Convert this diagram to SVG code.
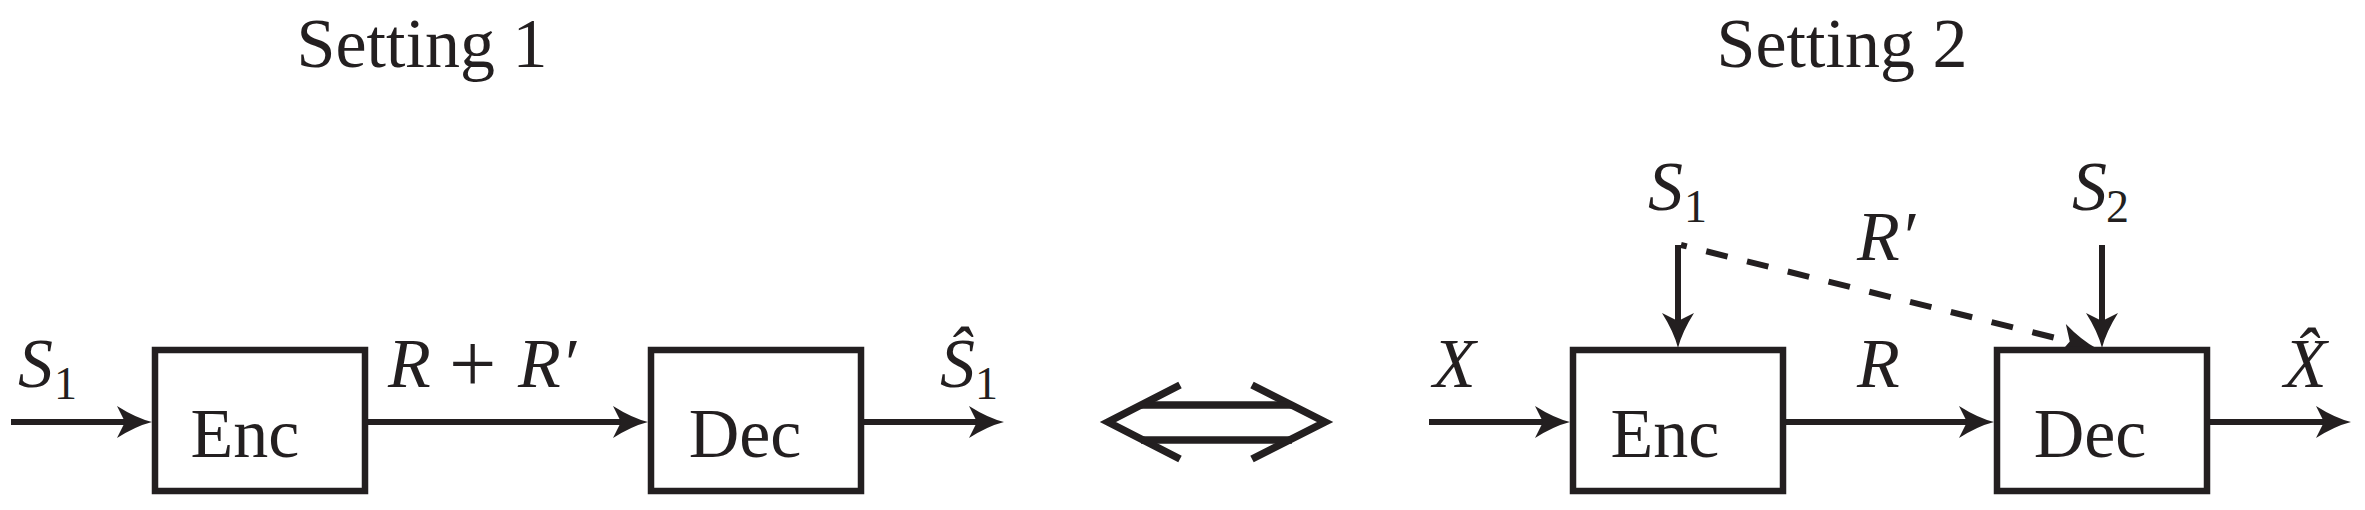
<svg xmlns="http://www.w3.org/2000/svg" width="2365" height="510" viewBox="0 0 2365 510">
<style>
text{font-family:"Liberation Serif","Times New Roman",serif;fill:#231f20;font-size:70px}
.title{text-anchor:middle}
.lbl{text-anchor:middle}
.mi{font-style:italic}
.sub{font-style:normal;font-size:46px}
.box{fill:#fff;stroke:#231f20;stroke-width:6.5}
.wire{fill:none;stroke:#231f20;stroke-width:6}
.dash{stroke-dasharray:22 20;stroke-dashoffset:16}
.eq{fill:none;stroke:#231f20;stroke-width:7.5}
</style>
<defs>
<marker id="ah" markerUnits="userSpaceOnUse" markerWidth="60" markerHeight="60" viewBox="-30 -30 60 60" refX="0" refY="0" orient="auto" overflow="visible">
<path d="M22,0 Q6,-4 -13,-16 L-5,0 L-13,16 Q6,4 22,0 Z" fill="#231f20"/>
</marker>
</defs>
<rect width="2365" height="510" fill="#fff"/>
<text class="title" x="422" y="67">Setting 1</text>
<text class="title" x="1842" y="67">Setting 2</text>
<g id="connectors">
<line class="wire" x1="11" y1="422" x2="130" y2="422" marker-end="url(#ah)"/>
<line class="wire" x1="365" y1="422" x2="626" y2="422" marker-end="url(#ah)"/>
<line class="wire" x1="861" y1="422" x2="982" y2="422" marker-end="url(#ah)"/>
<line class="wire" x1="1429" y1="422" x2="1548" y2="422" marker-end="url(#ah)"/>
<line class="wire" x1="1783" y1="422" x2="1972" y2="422" marker-end="url(#ah)"/>
<line class="wire" x1="2207" y1="422" x2="2329" y2="422" marker-end="url(#ah)"/>
<line class="wire" x1="1678" y1="245" x2="1678" y2="326" marker-end="url(#ah)"/>
<line class="wire" x1="2102" y1="245" x2="2102" y2="326" marker-end="url(#ah)"/>
<line class="wire dash" x1="1681" y1="245" x2="2074.6" y2="342.7" marker-end="url(#ah)"/>
</g>
<g id="enc1"><rect class="box" x="155" y="350" width="210" height="141"/><text class="lbl" x="245" y="457">Enc</text></g>
<g id="dec1"><rect class="box" x="651" y="350" width="210" height="141"/><text class="lbl" x="745" y="457">Dec</text></g>
<g id="enc2"><rect class="box" x="1573" y="350" width="210" height="141"/><text class="lbl" x="1665" y="457">Enc</text></g>
<g id="dec2"><rect class="box" x="1997" y="350" width="210" height="141"/><text class="lbl" x="2090" y="457">Dec</text></g>
<g id="equiv">
<polyline class="eq" points="1180,385 1108,422 1180,459"/>
<polyline class="eq" points="1252,385 1325,422 1252,459"/>
<line class="eq" x1="1141" y1="405" x2="1292" y2="405"/>
<line class="eq" x1="1141" y1="440" x2="1292" y2="440"/>
</g>
<g id="labels">
<text class="mi" x="18" y="387">S<tspan class="sub" x="54" y="399">1</tspan></text>
<text y="387"><tspan class="mi" x="388">R</tspan><tspan x="449" y="392" style="font-size:84px">+</tspan><tspan class="mi" x="518" y="387">R′</tspan></text>
<text class="mi" x="940" y="387">Ŝ<tspan class="sub" x="975" y="399">1</tspan></text>
<text class="mi" x="1648" y="210">S<tspan class="sub" x="1684" y="222">1</tspan></text>
<text class="mi" x="2072" y="210">S<tspan class="sub" x="2106" y="222">2</tspan></text>
<text class="mi" x="1857" y="260">R′</text>
<text class="mi" x="1433" y="387">X</text>
<text class="mi" x="1857" y="387">R</text>
<text class="mi" x="2284" y="387">X̂</text>
</g>
</svg>
